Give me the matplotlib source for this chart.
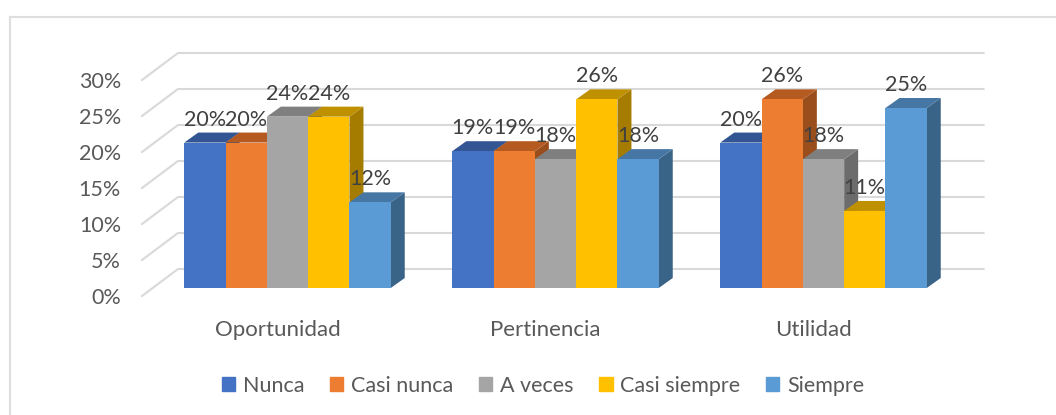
# --- External Imports ---
import numpy
import matplotlib
matplotlib.use( "Agg" )
import matplotlib.pyplot as pyplot
from matplotlib.patches import Rectangle


categories = [ "Oportunidad", "Pertinencia", "Utilidad" ]
seriesNames = [ "Nunca", "Casi nunca", "A veces", "Casi siempre", "Siempre" ]

nunca = [ 20.2, 19.0, 20.2 ]
casiNunca = [ 20.2, 19.0, 26.2 ]
aVeces = [ 23.8, 17.9, 17.9 ]
casiSiempre = [ 23.8, 26.2, 10.7 ]
siempre = [ 11.9, 17.9, 25.0 ]

yTicks = [ 0, 5, 10, 15, 20, 25, 30 ]

frontColors = [ "#4472C4", "#ED7D31", "#A5A5A5", "#FFC000", "#5B9BD5" ]
topColors = [ "#335593", "#B55B21", "#7F7F7F", "#BF9000", "#4676A3" ]
sideColors = [ "#2C4A80", "#9A4E1B", "#6C6C6C", "#A67C00", "#3A6388" ]

pyplot.rcParams[ "font.family" ] = [ "Lato", "DejaVu Sans" ]

# pixel layout of the reference, turned into data units below
pixelsPerGroup = 268.0
pixelsPerPercent = 7.2
firstGroupCenter = 287.5
baseline = 288.0
width, height = 1056, 415

barWidth = 41.3 / pixelsPerGroup
depthX = 14.0 / pixelsPerGroup
depthY = 10.0 / pixelsPerPercent

figure = pyplot.figure( figsize=( width / 100, height / 100 ), dpi=100 )
axes = figure.add_axes( [ 0, 0, 1, 1 ] )
axes.set_xlim( -firstGroupCenter / pixelsPerGroup, ( width - firstGroupCenter ) / pixelsPerGroup )
axes.set_ylim( ( baseline - height ) / pixelsPerPercent, baseline / pixelsPerPercent )
axes.axis( "off" )

# chart frame
figure.add_artist( pyplot.Line2D( [ 9.5 / width, 9.5 / width ], [ 0, 1 - 17.5 / height ], color="#DEDEDE", lw=1.5 ) )
figure.add_artist( pyplot.Line2D( [ 9.5 / width, 1 ], [ 1 - 17.5 / height, 1 - 17.5 / height ], color="#DEDEDE", lw=1.5 ) )

# walls: front edge of the floor, back edge of the wall
wallFrontX = ( 142.0 - firstGroupCenter ) / pixelsPerGroup
wallBackX = ( 178.0 - firstGroupCenter ) / pixelsPerGroup
wallEndX = ( 983.5 - firstGroupCenter ) / pixelsPerGroup
wallFrontY = ( baseline - 296.0 ) / pixelsPerPercent
wallBackY = ( baseline - 269.0 ) / pixelsPerPercent
tickLabelY = ( baseline - 298.0 ) / pixelsPerPercent

for tick in yTicks:
    axes.plot(
        [ wallFrontX, wallBackX, wallEndX ],
        [ tick + wallFrontY, tick + wallBackY, tick + wallBackY ],
        color="#D9D9D9",
        linewidth=1.5,
        zorder=1
    )
    axes.text(
        ( 121.0 - firstGroupCenter ) / pixelsPerGroup,
        tick + tickLabelY,
        "%d%%" % tick,
        color="#595959",
        fontsize=15.5,
        ha="right",
        va="center"
    )

series = [ nunca, casiNunca, aVeces, casiSiempre, siempre ]
positions = numpy.arange( len( categories ) )

zorder = 2
for seriesIndex, values in enumerate( series ):
    offsets = positions + ( seriesIndex - 2 ) * barWidth
    for x, value in zip( offsets, values ):
        left = x - barWidth / 2
        right = x + barWidth / 2
        axes.fill(
            [ right, right + depthX, right + depthX, right ],
            [ 0, depthY, value + depthY, value ],
            color=sideColors[ seriesIndex ],
            linewidth=0,
            zorder=zorder
        )
        axes.fill(
            [ left, right, right + depthX, left + depthX ],
            [ value, value, value + depthY, value + depthY ],
            color=topColors[ seriesIndex ],
            linewidth=0,
            zorder=zorder
        )
        axes.bar( x, value, width=barWidth, color=frontColors[ seriesIndex ], linewidth=0, zorder=zorder )
        axes.text(
            x,
            value + 3.2,
            "%.0f%%" % value,
            color="#404040",
            fontsize=15.5,
            ha="center",
            va="center",
            zorder=20
        )
    zorder += 1

for position, category in zip( positions, categories ):
    axes.text(
        position - 10.0 / pixelsPerGroup,
        ( baseline - 330.0 ) / pixelsPerPercent,
        category,
        color="#595959",
        fontsize=16,
        ha="center",
        va="center"
    )

handles = [ Rectangle( ( 0, 0 ), 1, 1, color=color ) for color in frontColors ]
axes.legend(
    handles,
    seriesNames,
    loc="center",
    bbox_to_anchor=( 543 / width, 1 - 386 / height ),
    ncol=5,
    frameon=False,
    fontsize=15.5,
    labelcolor="#595959",
    handlelength=0.62,
    handleheight=0.62,
    handletextpad=0.35,
    columnspacing=1.2
)

pyplot.savefig( "out.png", dpi=100 )
